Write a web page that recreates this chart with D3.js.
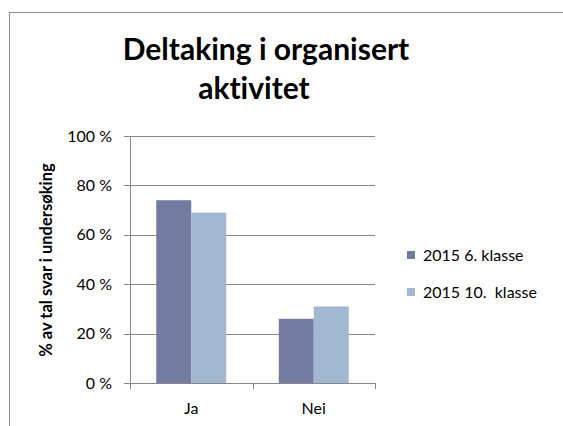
<!DOCTYPE html>
<html>
<head>
<meta charset="utf-8">
<script src="https://cdn.jsdelivr.net/npm/d3@7"></script>
<style>
  body { margin: 0; background: #fff; }
  svg text { font-family: Lato, "Open Sans", sans-serif; fill: #000; font-variant-ligatures: none; }
</style>
</head>
<body>
<svg id="chart" width="563" height="426"></svg>
<script>
"use strict";
// data
var categories = ["Ja", "Nei"];
var seriesNames = ["2015 6. klasse", "2015 10.  klasse"];
var klasse6 = [74, 26];
var klasse10 = [69, 31];
var yTicks = [0, 20, 40, 60, 80, 100];
var colors = ["#737ba0", "#a2b8d0"];

var svg = d3.select("#chart");

// outer frame (clipped by the window on right and bottom)
svg.append("rect")
  .attr("x", 9.5).attr("y", 12.5)
  .attr("width", 600).attr("height", 450)
  .attr("fill", "none")
  .attr("stroke", "#8c8c8c")
  .attr("stroke-width", 1);

// title
svg.append("text")
  .attr("x", 266).attr("y", 60)
  .attr("text-anchor", "middle")
  .attr("font-size", 30).attr("font-weight", "bold")
  .text("Deltaking i organisert");
svg.append("text")
  .attr("x", 254).attr("y", 99)
  .attr("text-anchor", "middle")
  .attr("font-size", 30).attr("font-weight", "bold")
  .text("aktivitet");

var plotL = 130, plotR = 375, plotT = 136, plotB = 383;

var y = d3.scaleLinear().domain([0, 100]).range([plotB, plotT]);
var x0 = d3.scaleBand().domain(categories).range([plotL, plotR]);
var x1 = d3.scaleBand().domain([0, 1]).range([26.25, x0.bandwidth() - 26.25]);

// gridlines
svg.append("g")
  .selectAll("line")
  .data(yTicks)
  .enter()
  .append("line")
  .attr("x1", plotL - 6).attr("x2", plotR)
  .attr("y1", d => Math.round(y(d)) + 0.5)
  .attr("y2", d => Math.round(y(d)) + 0.5)
  .attr("stroke", "#888")
  .attr("stroke-width", 1);

// y tick labels
svg.append("g")
  .selectAll("text")
  .data(yTicks)
  .enter()
  .append("text")
  .attr("x", 112)
  .attr("y", d => y(d))
  .attr("dy", "0.35em")
  .attr("text-anchor", "end")
  .attr("font-size", 16)
  .text(d => d + " %");

// bars
var groups = svg.append("g")
  .selectAll("g")
  .data(categories)
  .enter()
  .append("g")
  .attr("transform", d => "translate(" + x0(d) + ",0)");

groups.selectAll("rect")
  .data((d, i) => [klasse6[i], klasse10[i]])
  .enter()
  .append("rect")
  .attr("x", (d, j) => x1(j))
  .attr("y", d => y(d))
  .attr("width", x1.bandwidth())
  .attr("height", d => plotB - y(d))
  .attr("fill", (d, j) => colors[j]);

// axes lines
svg.append("line")
  .attr("x1", plotL + 0.5).attr("x2", plotL + 0.5)
  .attr("y1", plotT).attr("y2", plotB + 6)
  .attr("stroke", "#888");
svg.append("line")
  .attr("x1", plotL).attr("x2", plotR)
  .attr("y1", plotB + 0.5).attr("y2", plotB + 0.5)
  .attr("stroke", "#888");
svg.append("g")
  .selectAll("line")
  .data(categories)
  .enter()
  .append("line")
  .attr("x1", d => Math.round(x0(d) + x0.bandwidth()) + 0.5)
  .attr("x2", d => Math.round(x0(d) + x0.bandwidth()) + 0.5)
  .attr("y1", plotB).attr("y2", plotB + 6)
  .attr("stroke", "#888");

// x labels
svg.append("g")
  .selectAll("text")
  .data(categories)
  .enter()
  .append("text")
  .attr("x", d => x0(d) + x0.bandwidth() / 2)
  .attr("y", 414)
  .attr("text-anchor", "middle")
  .attr("font-size", 16)
  .text(d => d);

// y axis title
svg.append("text")
  .attr("transform", "translate(52,260) rotate(-90)")
  .attr("text-anchor", "middle")
  .attr("font-size", 16.5).attr("font-weight", "bold")
  .text("% av tal svar i undersøking");

// legend
var legend = svg.append("g")
  .selectAll("g")
  .data(seriesNames)
  .enter()
  .append("g")
  .attr("transform", (d, i) => "translate(407," + (255 + i * 37) + ")");
legend.append("rect")
  .attr("x", 0).attr("y", -4)
  .attr("width", 8).attr("height", 8)
  .attr("fill", (d, i) => colors[i]);
legend.append("text")
  .attr("x", 16).attr("y", 0)
  .attr("dy", "0.35em")
  .attr("font-size", 16)
  .style("white-space", "pre")
  .text(d => d);
</script>
</body>
</html>
